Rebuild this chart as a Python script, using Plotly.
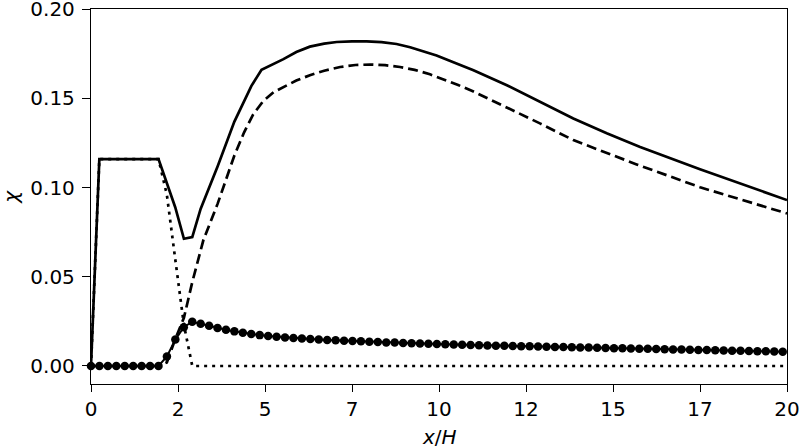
import plotly.graph_objects as go

# total concentration (solid)
total_x = [0, 0.24, 1.94, 2.18, 2.42, 2.67, 2.91, 3.15, 3.64, 4.12, 4.61, 4.90,
           5.53, 5.90, 6.29, 6.70, 7.06, 7.50, 7.92, 8.35, 8.78, 9.17, 9.55,
           9.93, 10.45, 10.99, 11.95, 12.90, 13.86, 14.82, 15.78, 17.50, 20.0]
total_y = [0, 0.116, 0.116, 0.103, 0.089, 0.0713, 0.0722, 0.088, 0.112, 0.137,
           0.157, 0.166, 0.172, 0.176, 0.179, 0.1807, 0.1816, 0.182, 0.182,
           0.1815, 0.1805, 0.1787, 0.1765, 0.174, 0.170, 0.1658, 0.1574,
           0.148, 0.1387, 0.1305, 0.1228, 0.1103, 0.093]

# dashed component
dash_x = [0, 1.94, 2.18, 2.42, 2.67, 2.91, 3.23, 3.64, 4.12, 4.40, 4.66, 4.95,
          5.25, 5.53, 5.90, 6.29, 6.70, 7.16, 7.60, 8.02, 8.45, 8.88, 9.30,
          9.74, 10.12, 10.55, 10.99, 11.95, 12.90, 13.86, 14.82, 15.68, 17.50,
          20.0]
dash_y = [0, 0, 0.002, 0.015, 0.027, 0.047, 0.0706, 0.091, 0.118, 0.131, 0.141,
          0.1485, 0.1535, 0.1565, 0.160, 0.163, 0.1655, 0.1676, 0.1687, 0.169,
          0.1686, 0.1676, 0.166, 0.1635, 0.1608, 0.1575, 0.1538, 0.145, 0.136,
          0.1266, 0.1195, 0.113, 0.1002, 0.0855]

# dotted component
dot_x = [0, 0.24, 1.94, 2.18, 2.42, 2.67, 2.91, 20.0]
dot_y = [0, 0.116, 0.116, 0.096, 0.060, 0.023, 0, 0]

# circles, sampled every dx
dx = 0.2424
circle_y = [0, 0, 0, 0, 0, 0, 0, 0, 0, 0.0053, 0.0148, 0.0217, 0.0248, 0.0237,
            0.0225, 0.0213, 0.0203, 0.0194, 0.0186, 0.0179, 0.0173, 0.0168,
            0.0164, 0.0160, 0.0157, 0.0154, 0.0151, 0.0148, 0.0146, 0.0144,
            0.0142, 0.0140, 0.0138, 0.0136, 0.0134, 0.0132, 0.0131, 0.0129,
            0.0127, 0.0126, 0.0124, 0.0123, 0.0122, 0.0120, 0.0119, 0.0118,
            0.0116, 0.0115, 0.0114, 0.0113, 0.0112, 0.0111, 0.0110, 0.0109,
            0.0108, 0.0107, 0.0106, 0.0105, 0.0104, 0.0103, 0.0102, 0.0101,
            0.0100, 0.0099, 0.0098, 0.0097, 0.0096, 0.0095, 0.0094, 0.0093,
            0.0092, 0.0091, 0.0090, 0.0089, 0.0088, 0.0087, 0.0086, 0.0085,
            0.0084, 0.0083, 0.0082, 0.0081, 0.0080]
circle_x = [i * dx for i in range(len(circle_y))]

xticks = [0, 2.5, 5, 7.5, 10, 12.5, 15, 17.5, 20]
xlabels = ['0', '2', '5', '7', '10', '12', '15', '17', '20']
yticks = [0, 0.05, 0.10, 0.15, 0.20]
ylabels = ['0.00', '0.05', '0.10', '0.15', '0.20']

lw = 2.7
fig = go.Figure()
fig.add_trace(go.Scatter(x=total_x, y=total_y, mode='lines',
                         line=dict(color='black', width=lw)))
fig.add_trace(go.Scatter(x=dash_x, y=dash_y, mode='lines',
                         line=dict(color='black', width=lw, dash='10px,5px')))
fig.add_trace(go.Scatter(x=dot_x, y=dot_y, mode='lines',
                         line=dict(color='black', width=lw, dash='3px,5px')))
fig.add_trace(go.Scatter(x=circle_x, y=circle_y, mode='lines+markers',
                         line=dict(color='black', width=2),
                         marker=dict(color='black', size=8.5),
                         cliponaxis=False))

axis_common = dict(showgrid=False, zeroline=False, showline=True,
                   linecolor='black', linewidth=1.3, mirror=True,
                   ticks='outside', tickcolor='black', tickwidth=1.3,
                   automargin=False, ticklabeloverflow='allow',
                   tickfont=dict(family='DejaVu Sans', size=20, color='black'))

fig.update_layout(
    width=800, height=448,
    margin=dict(l=91, r=13, t=9, b=64),
    plot_bgcolor='white', paper_bgcolor='white',
    showlegend=False,
    font=dict(family='DejaVu Sans', color='black'),
    xaxis=dict(range=[0, 20], tickvals=xticks, ticktext=xlabels, ticklen=7,
               **axis_common),
    yaxis=dict(range=[-0.0101, 0.2001], tickvals=yticks, ticktext=ylabels,
               ticklen=8, ticklabelstandoff=3, **axis_common),
    annotations=[
        dict(text='<i>x</i>/<i>H</i>', xref='paper', yref='paper',
             x=0.5, y=-0.141, xanchor='center', yanchor='middle',
             showarrow=False, font=dict(family='DejaVu Sans', size=20)),
        dict(text='<i>χ</i>', xref='paper', yref='paper',
             x=-0.116, y=0.5, xanchor='center', yanchor='middle',
             textangle=-90, showarrow=False,
             font=dict(family='DejaVu Sans', size=20)),
    ],
)

fig.write_html("out.html", config={'displayModeBar': False},
               post_script="document.body.style.margin='0';")
